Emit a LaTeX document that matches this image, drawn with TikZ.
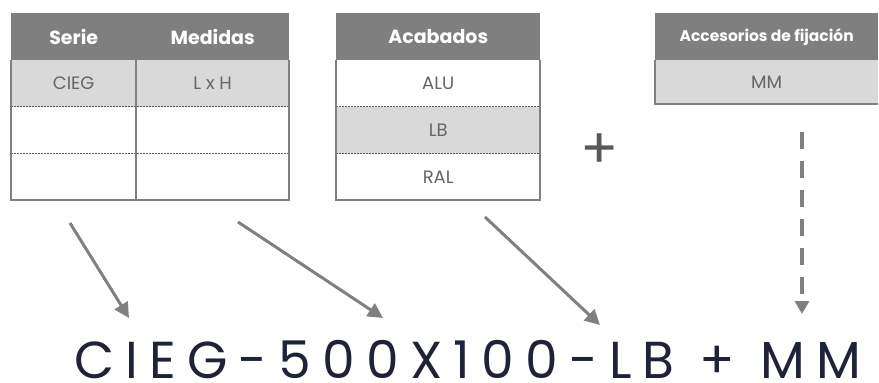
\documentclass[tikz,border=0pt]{standalone}
\usepackage{fontspec}
\setmainfont{Poppins}
\newfontfamily\codefont{Poppins}[LetterSpace=21.5]
\usetikzlibrary{arrows.meta}
\definecolor{hdr}{HTML}{7F7F7F}
\definecolor{cellgray}{HTML}{D9D9D9}
\definecolor{celltext}{HTML}{666666}
\definecolor{bord}{HTML}{808080}
\definecolor{dots}{HTML}{595959}
\definecolor{navy}{HTML}{1E2339}
\definecolor{arrowgray}{HTML}{808080}
\definecolor{plusgray}{HTML}{595959}
\begin{document}
\begin{tikzpicture}[x=1pt,y=-1pt,
  hdrcell/.style={fill=hdr, text=white, font=\bfseries\fontsize{19}{22}\selectfont, anchor=north west, inner sep=0pt, minimum height=47pt},
  bodycell/.style={anchor=north west, inner sep=0pt, minimum height=46.67pt, text=celltext, font=\fontsize{18}{21}\selectfont},
  graycell/.style={bodycell, fill=cellgray},
  border/.style={draw=bord, line width=2pt},
  sep/.style={draw=dots, line width=1.6pt, dash pattern=on 1.6pt off 1.4pt},
  conn/.style={draw=arrowgray, line width=3pt, -{Triangle[length=15pt,width=15pt]}},
  dconn/.style={conn, line width=3.8pt, dash pattern=on 17pt off 12pt, -{Triangle[length=13pt,width=14pt]}}
]
\useasboundingbox (0,0) rectangle (879,383);
% table 1
\node[hdrcell, minimum width=125pt] (serieH) at (11,13) {Serie};
\node[hdrcell, minimum width=153pt] (medH) at (136,13) {Medidas};
\node[graycell, minimum width=125pt] (s1) at (11,60) {CIEG};
\node[graycell, minimum width=153pt] (m1) at (136,60) {L x H};
\node[bodycell, minimum width=125pt] (s2) at (11,106.67) {};
\node[bodycell, minimum width=153pt] (m2) at (136,106.67) {};
\node[bodycell, minimum width=125pt] (s3) at (11,153.33) {};
\node[bodycell, minimum width=153pt] (m3) at (136,153.33) {};
\draw[sep] (s2.north west) -- (m2.north east);
\draw[sep] (s3.north west) -- (m3.north east);
\draw[border] (serieH.south west) -- (s3.south west) -- (m3.south east) -- (medH.south east);
\draw[border] (medH.south west) -- (m3.south west);
% table 2
\node[hdrcell, minimum width=204pt] (acaH) at (336,13) {Acabados};
\node[bodycell, minimum width=204pt] (alu) at (336,60) {ALU};
\node[graycell, minimum width=204pt] (lb) at (336,106.67) {LB};
\node[bodycell, minimum width=204pt] (ral) at (336,153.33) {RAL};
\draw[sep] (lb.north west) -- (lb.north east);
\draw[sep] (ral.north west) -- (ral.north east);
\draw[border] (acaH.south west) -- (ral.south west) -- (ral.south east) -- (acaH.south east);
% table 3
\node[hdrcell, minimum width=223pt, font=\bfseries\fontsize{15.5}{18}\selectfont] (accH) at (655,13) {Accesorios de fijación};
\node[graycell, minimum width=223pt, minimum height=44pt] (mm) at (655,60) {MM};
\draw[border] (accH.south west) -- (mm.south west) -- (mm.south east);
% plus
\node[text=plusgray, font=\fontsize{56}{60}\selectfont, inner sep=0pt] (plus) at (600,151) {+};
% result
\node[anchor=base west, inner sep=0pt, text=navy, font=\codefont\fontsize{52}{60}\selectfont] (code) at (74,378) {CIEG-500X100-LB + MM};
% connectors
\coordinate (a1s) at (70,223);  \coordinate (a1e) at (129,318);
\coordinate (a2s) at (238,222); \coordinate (a2e) at (383,318);
\coordinate (a3s) at (485,217); \coordinate (a3e) at (600,325);
\coordinate (a4s) at (802,132); \coordinate (a4e) at (802,314);
\draw[conn] (a1s) -- (a1e);
\draw[conn] (a2s) -- (a2e);
\draw[conn] (a3s) -- (a3e);
\draw[dconn] (a4s) -- (a4e);
\end{tikzpicture}
\end{document}
